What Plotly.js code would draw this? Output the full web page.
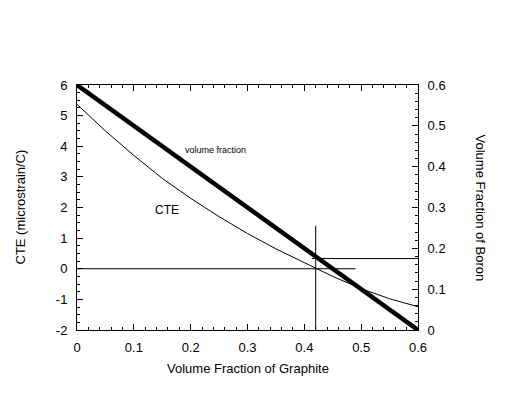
<!DOCTYPE html>
<html>
<head>
<meta charset="utf-8">
<script src="https://cdn.plot.ly/plotly-3.0.1.min.js"></script>
<style>html,body{margin:0;padding:0;background:#fff;}#chart{width:508px;height:394px;}</style>
</head>
<body>
<div id="chart"></div>
<script>
// Data
var graphiteFraction = [0, 0.05, 0.1, 0.15, 0.2, 0.25, 0.3, 0.35, 0.4, 0.45, 0.5, 0.55, 0.6];
var cteValues = [5.37, 4.5, 3.7, 2.95, 2.3, 1.7, 1.15, 0.65, 0.2, -0.25, -0.65, -0.98, -1.24];
var boronX = [0, 0.6];
var boronFraction = [0.6, 0];
// guide lines
var vGuideX = [0.42, 0.42];
var vGuideY = [-2, 1.4];
var hGuideX = [0, 0.49];
var hGuideY = [0, 0];
var hGuide2X = [0.413, 0.6];
var hGuide2Y = [0.175, 0.175];
// tick labels
var cteTickVals = [-2, -1, 0, 1, 2, 3, 4, 5, 6];
var cteTickText = ['-2', '-1', '0', '1', '2', '3', '4', '5', '6'];

var font = "Arial, 'Liberation Sans', sans-serif";

var traces = [
  {x: graphiteFraction, y: cteValues, mode: 'lines', line: {color: '#000', width: 1}, yaxis: 'y', hoverinfo: 'skip'},
  {x: boronX, y: boronFraction, mode: 'lines', line: {color: '#000', width: 4.5}, yaxis: 'y2', hoverinfo: 'skip'},
  {x: vGuideX, y: vGuideY, mode: 'lines', line: {color: '#000', width: 1}, yaxis: 'y', hoverinfo: 'skip'},
  {x: hGuideX, y: hGuideY, mode: 'lines', line: {color: '#000', width: 1}, yaxis: 'y', hoverinfo: 'skip'},
  {x: hGuide2X, y: hGuide2Y, mode: 'lines', line: {color: '#000', width: 1}, yaxis: 'y2', hoverinfo: 'skip'}
];

var layout = {
  width: 508, height: 394,
  margin: {l: 77, r: 90, t: 85, b: 64},
  paper_bgcolor: '#fff', plot_bgcolor: '#fff',
  showlegend: false,
  font: {family: font, size: 13, color: '#000'},
  xaxis: {
    range: [0, 0.6], dtick: 0.1, tick0: 0,
    ticks: 'inside', ticklen: 6, tickwidth: 1, tickcolor: '#000',
    minor: {dtick: 0.02, ticks: 'inside', ticklen: 3, tickcolor: '#000', showgrid: false},
    showline: true, linecolor: '#000', linewidth: 1, mirror: 'ticks',
    showgrid: false, zeroline: false, ticklabelstandoff: 5,
    tickfont: {family: font, size: 13, color: '#000'}
  },
  yaxis: {
    range: [-2, 6], tickmode: 'array', tickvals: cteTickVals, ticktext: cteTickText,
    ticks: 'inside', ticklen: 6, tickwidth: 1, tickcolor: '#000',
    minor: {dtick: 0.25, tick0: 0, ticks: 'inside', ticklen: 3, tickcolor: '#000', showgrid: false},
    showline: true, linecolor: '#000', linewidth: 1,
    showgrid: false, zeroline: false, ticklabelstandoff: 6,
    tickfont: {family: font, size: 13, color: '#000'}
  },
  yaxis2: {
    range: [0, 0.6], dtick: 0.1, tick0: 0, overlaying: 'y', side: 'right',
    ticks: 'inside', ticklen: 6, tickwidth: 1, tickcolor: '#000',
    minor: {dtick: 0.02, ticks: 'inside', ticklen: 3, tickcolor: '#000', showgrid: false},
    showline: true, linecolor: '#000', linewidth: 1,
    showgrid: false, zeroline: false, ticklabelstandoff: 6,
    tickfont: {family: font, size: 13, color: '#000'}
  },
  annotations: [
    {text: 'volume fraction', x: 0.243, y: 3.88, xref: 'x', yref: 'y', showarrow: false, font: {family: font, size: 9, color: '#000'}},
    {text: 'CTE', x: 0.158, y: 1.92, xref: 'x', yref: 'y', showarrow: false, font: {family: font, size: 12, color: '#000'}},
    {text: 'Volume Fraction of Graphite', x: 0.5, y: 0, xref: 'paper', yref: 'paper', yshift: -38, yanchor: 'middle', showarrow: false, font: {family: font, size: 13, color: '#000'}},
    {text: 'CTE (microstrain/C)', x: 0, y: 0.5, xref: 'paper', yref: 'paper', xshift: -57, xanchor: 'center', showarrow: false, textangle: -90, font: {family: font, size: 13, color: '#000'}},
    {text: 'Volume Fraction of Boron', x: 1, y: 0.5, xref: 'paper', yref: 'paper', xshift: 62, xanchor: 'center', showarrow: false, textangle: 90, font: {family: font, size: 13, color: '#000'}}
  ]
};

Plotly.newPlot('chart', traces, layout, {staticPlot: true, displayModeBar: false});
</script>
</body>
</html>
